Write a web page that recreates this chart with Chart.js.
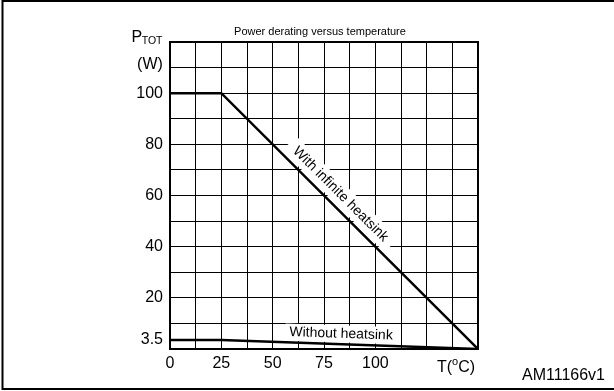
<!DOCTYPE html>
<html>
<head>
<meta charset="utf-8">
<script src="https://cdn.jsdelivr.net/npm/chart.js@4.4.1/dist/chart.umd.min.js"></script>
<style>
  html, body { margin: 0; padding: 0; background: #fff; }
  canvas { display: block; }
</style>
</head>
<body>
<canvas id="derating" width="614" height="391"></canvas>
<script>
// Power derating curves
const temps = [0, 25, 150];              // temperature, °C
const withHeatsink = [100, 100, 0];       // P_TOT with infinite heatsink, W
const withoutHeatsink = [3.5, 3.5, 0];    // P_TOT without heatsink, W

// axis ticks - grid every 12.5 °C and every 10 W
const xTicks = [0, 12.5, 25, 37.5, 50, 62.5, 75, 87.5, 100, 112.5, 125, 137.5, 150];
const xTickLabels = ['0', '', '25', '', '50', '', '75', '', '100', '', '', '', ''];
const yTicks = [0, 3.5, 10, 20, 30, 40, 50, 60, 70, 80, 90, 100, 110, 120];
const yTickLabels = ['', '3.5', '', '20', '', '40', '', '60', '', '80', '', '100', '', ''];

const FONT = "'Liberation Sans', Arial, Helvetica, sans-serif";

function toPoints(xs, ys) {
    return xs.map((x, i) => ({ x: x, y: ys[i] }));
}

// text along a line segment, on a white patch that hides the grid
function lineLabel(ctx, xs, ys, text, cx, cy, from, to, size, padX, boxH) {
    const px = xs.getPixelForValue(cx);
    const py = ys.getPixelForValue(cy);
    const angle = Math.atan2(
        ys.getPixelForValue(to[1]) - ys.getPixelForValue(from[1]),
        xs.getPixelForValue(to[0]) - xs.getPixelForValue(from[0])
    );
    ctx.save();
    ctx.translate(px, py);
    ctx.rotate(angle);
    ctx.font = size + 'px ' + FONT;
    const w = ctx.measureText(text).width;
    ctx.fillStyle = '#fff';
    ctx.fillRect(-w / 2 - padX, -boxH / 2, w + 2 * padX, boxH);
    ctx.fillStyle = '#000';
    ctx.textAlign = 'center';
    ctx.textBaseline = 'middle';
    ctx.fillText(text, 0, 0);
    ctx.restore();
}

const annotations = {
    id: 'annotations',
    beforeDatasetsDraw(chart) {
        const { ctx, scales: { x, y } } = chart;
        lineLabel(ctx, x, y, 'With infinite heatsink', 83, 60.5, [25, 100], [150, 0], 14, 8, 20);
        lineLabel(ctx, x, y, 'Without heatsink', 83.3, 5.9, [25, 3.5], [150, 0], 14, 4, 17);
    },
    afterDraw(chart) {
        const { ctx, chartArea: a } = chart;
        ctx.save();
        ctx.strokeStyle = '#000';

        // top and right edges of the plot frame
        ctx.lineWidth = 2;
        ctx.beginPath();
        ctx.moveTo(a.left, a.top);
        ctx.lineTo(a.right, a.top);
        ctx.lineTo(a.right, a.bottom);
        ctx.stroke();

        // outer figure border (left, top, bottom)
        ctx.beginPath();
        ctx.moveTo(chart.width, 1);
        ctx.lineTo(2.5, 1);
        ctx.lineTo(2.5, 389);
        ctx.lineTo(chart.width, 389);
        ctx.stroke();

        ctx.fillStyle = '#000';
        ctx.textBaseline = 'alphabetic';

        // title
        ctx.font = '11px ' + FONT;
        ctx.textAlign = 'center';
        ctx.fillText('Power derating versus temperature', 320, 34.5);

        // y axis name: P_TOT (W)
        ctx.textAlign = 'left';
        ctx.font = '16px ' + FONT;
        ctx.fillText('P', 131.5, 42);
        const pw = ctx.measureText('P').width;
        ctx.font = '10.5px ' + FONT;
        ctx.fillText('TOT', 131 + pw, 43.5);
        ctx.font = '16px ' + FONT;
        ctx.textAlign = 'center';
        ctx.fillText('(W)', 150, 69);

        // x axis name: T(°C)
        ctx.textAlign = 'left';
        let tx = 437;
        ctx.font = '16px ' + FONT;
        ctx.fillText('T(', tx, 372);
        tx += ctx.measureText('T(').width;
        ctx.font = '11px ' + FONT;
        ctx.fillText('o', tx, 365);
        tx += ctx.measureText('o').width;
        ctx.font = '16px ' + FONT;
        ctx.fillText('C)', tx, 372);

        // figure id
        ctx.textAlign = 'right';
        ctx.font = '16px ' + FONT;
        ctx.fillText('AM11166v1', 605, 380);
        ctx.restore();
    }
};

const ctx = document.getElementById('derating').getContext('2d');

new Chart(ctx, {
    type: 'scatter',
    data: {
        datasets: [
            {
                label: 'With infinite heatsink',
                data: toPoints(temps, withHeatsink),
                showLine: true,
                borderColor: '#000',
                borderWidth: 2.5,
                pointRadius: 0,
                tension: 0
            },
            {
                label: 'Without heatsink',
                data: toPoints(temps, withoutHeatsink),
                showLine: true,
                borderColor: '#000',
                borderWidth: 2.5,
                pointRadius: 0,
                tension: 0
            }
        ]
    },
    options: {
        responsive: false,
        animation: false,
        layout: {
            padding: { left: 0, top: 42, right: 136, bottom: 0 }
        },
        scales: {
            x: {
                type: 'linear',
                min: 0,
                max: 150,
                afterBuildTicks: scale => { scale.ticks = xTicks.map(v => ({ value: v })); },
                afterFit: scale => { scale.height = 42; },
                grid: { color: '#000', lineWidth: 1, drawTicks: false },
                border: { display: true, color: '#000', width: 2 },
                ticks: {
                    autoSkip: false,
                    maxRotation: 0,
                    padding: 5,
                    color: '#000',
                    font: { family: FONT, size: 16 },
                    callback: (value, i) => xTickLabels[i]
                }
            },
            y: {
                type: 'linear',
                min: 0,
                max: 120,
                afterBuildTicks: scale => { scale.ticks = yTicks.map(v => ({ value: v })); },
                afterFit: scale => { scale.width = 170; },
                grid: {
                    // no grid line at 3.5 W, only the label
                    color: c => (c.tick && c.tick.value === 3.5) ? 'rgba(0,0,0,0)' : '#000',
                    lineWidth: 1,
                    drawTicks: false
                },
                border: { display: true, color: '#000', width: 2 },
                ticks: {
                    autoSkip: false,
                    padding: 7,
                    color: '#000',
                    font: { family: FONT, size: 16 },
                    callback: (value, i) => yTickLabels[i]
                }
            }
        },
        plugins: {
            legend: { display: false },
            title: { display: false },
            tooltip: { enabled: false }
        }
    },
    plugins: [annotations]
});
</script>
</body>
</html>
